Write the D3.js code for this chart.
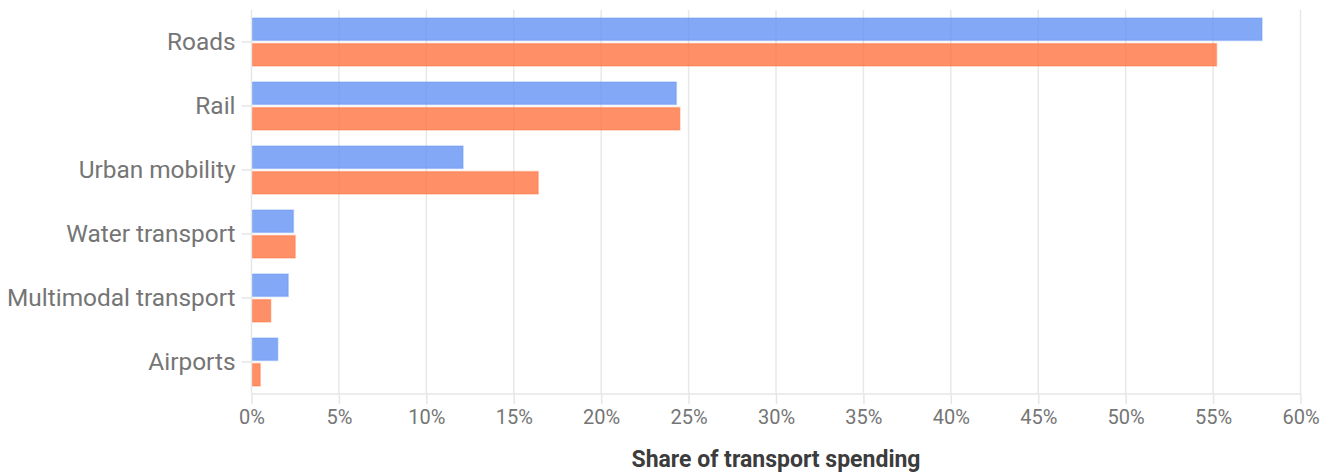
<!DOCTYPE html>
<html>
<head>
<meta charset="utf-8">
<script src="https://cdn.jsdelivr.net/npm/d3@7"></script>
<style>
  html, body { margin: 0; padding: 0; background: #fff; }
  svg { display: block; font-family: Roboto, "Noto Sans", sans-serif; }
</style>
</head>
<body>
<svg id="chart" width="1322" height="474"></svg>
<script>
// Share of transport spending by mode, two series
const categories = ["Roads", "Rail", "Urban mobility", "Water transport", "Multimodal transport", "Airports"];
const seriesA = [57.8, 24.3, 12.1, 2.4, 2.1, 1.5];
const seriesB = [55.2, 24.5, 16.4, 2.5, 1.1, 0.5];
const xTicks = [0, 5, 10, 15, 20, 25, 30, 35, 40, 45, 50, 55, 60];
const axisTitle = "Share of transport spending";

const svg = d3.select("#chart");
const margin = { left: 251.5, right: 21.5, top: 10, bottom: 80 };
const width = 1322, height = 474;

const x = d3.scaleLinear().domain([0, 60]).range([margin.left, width - margin.right]);
const y = d3.scaleBand().domain(categories).range([margin.top, height - margin.bottom]).paddingInner(0).paddingOuter(0);

const inner = d3.scaleBand().domain(["a", "b"]).range([8, y.bandwidth() - 8]).paddingInner(0.12);

// vertical gridlines
svg.append("g")
  .selectAll("line")
  .data(xTicks.slice(1))
  .join("line")
  .attr("x1", d => x(d)).attr("x2", d => x(d))
  .attr("y1", margin.top).attr("y2", height - margin.bottom)
  .attr("stroke", "#e8e8e8").attr("stroke-width", 1.5);

// bars
const colors = { a: "#6091f3", b: "#ff6f3b" };
const rows = categories.map((c, i) => ({ c, a: seriesA[i], b: seriesB[i] }));
const g = svg.append("g");
["a", "b"].forEach(k => {
  g.selectAll("rect.s" + k)
    .data(rows)
    .join("rect")
    .attr("class", "s" + k)
    .attr("x", x(0) + 0.5)
    .attr("y", d => y(d.c) + inner(k))
    .attr("width", d => x(d[k]) - x(0) - 0.5)
    .attr("height", inner.bandwidth())
    .attr("fill", colors[k])
    .attr("fill-opacity", 0.78)
    .attr("stroke", colors[k])
    .attr("stroke-opacity", 0.35)
    .attr("stroke-width", 1.5);
});

// y axis
const yAxis = d3.axisLeft(y).tickSize(10).tickPadding(6);
const yg = svg.append("g").attr("transform", `translate(${x(0)},0)`).call(yAxis);
yg.select(".domain").attr("stroke", "#e6e6e6").attr("stroke-width", 1.5)
  .attr("d", `M0,${margin.top}V${height - margin.bottom}`);
yg.selectAll(".tick line").attr("stroke", "#e6e6e6").attr("stroke-width", 1.5);
yg.selectAll(".tick text").attr("fill", "#757575").style("font-size", "24.4px")
  .style("font-family", "Roboto, sans-serif");

// x axis
const xAxis = d3.axisBottom(x).tickValues(xTicks).tickFormat(d => d + "%").tickSize(10).tickPadding(6);
const xg = svg.append("g").attr("transform", `translate(0,${height - margin.bottom})`).call(xAxis);
xg.select(".domain").attr("stroke", "#e6e6e6").attr("stroke-width", 1.5)
  .attr("d", `M${x(0)},0H${x(60)}`);
xg.selectAll(".tick line").attr("stroke", "#e6e6e6").attr("stroke-width", 1.5);
xg.selectAll(".tick text").attr("fill", "#757575").style("font-size", "20px")
  .style("font-family", "Roboto, sans-serif");

// axis title
svg.append("text")
  .attr("x", (x(0) + x(60)) / 2)
  .attr("y", 467)
  .attr("text-anchor", "middle")
  .attr("fill", "#3c3c3c")
  .style("font-size", "23px")
  .style("font-weight", "bold")
  .text(axisTitle);
</script>
</body>
</html>
